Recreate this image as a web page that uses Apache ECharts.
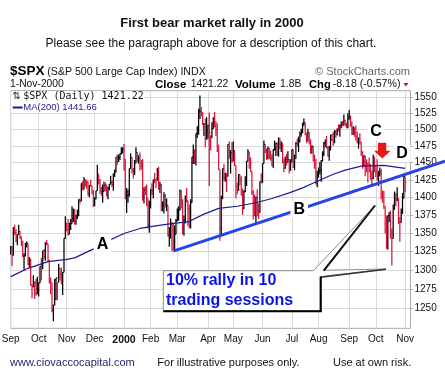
<!DOCTYPE html>
<html><head><meta charset="utf-8">
<script src="https://cdn.jsdelivr.net/npm/echarts@6.0.0/dist/echarts.min.js"></script>
<style>html,body{margin:0;padding:0;background:#fff}#c{width:445px;height:384px}</style>
</head><body><div id="c"></div>
<script>
// Trading days per month (last month has 4 blank slots after Nov 1)
const tradingMonths = [
"1999-09|1 2 3 7 8 9 10 13 14 15 16 17 20 21 22 23 24 27 28 29 30",
"1999-10|1 4 5 6 7 8 11 12 13 14 15 18 19 20 21 22 25 26 27 28 29",
"1999-11|1 2 3 4 5 8 9 10 11 12 15 16 17 18 19 22 23 24 26 29 30",
"1999-12|1 2 3 6 7 8 9 10 13 14 15 16 17 20 21 22 23 27 28 29 30 31",
"2000-01|3 4 5 6 7 10 11 12 13 14 18 19 20 21 24 25 26 27 28 31",
"2000-02|1 2 3 4 7 8 9 10 11 14 15 16 17 18 22 23 24 25 28 29",
"2000-03|1 2 3 6 7 8 9 10 13 14 15 16 17 20 21 22 23 24 27 28 29 30 31",
"2000-04|3 4 5 6 7 10 11 12 13 14 17 18 19 20 24 25 26 27 28",
"2000-05|1 2 3 4 5 8 9 10 11 12 15 16 17 18 19 22 23 24 25 26 30 31",
"2000-06|1 2 5 6 7 8 9 12 13 14 15 16 19 20 21 22 23 26 27 28 29 30",
"2000-07|3 5 6 7 10 11 12 13 14 17 18 19 20 21 24 25 26 27 28 31",
"2000-08|1 2 3 4 7 8 9 10 11 14 15 16 17 18 21 22 23 24 25 28 29 30 31",
"2000-09|1 5 6 7 8 11 12 13 14 15 18 19 20 21 22 25 26 27 28 29",
"2000-10|2 3 4 5 6 9 10 11 12 13 16 17 18 19 20 23 24 25 26 27 30 31",
"2000-11|1 2 3 6 7"
];

const closes = [
1331.1,1319.1,1357.2,1350.5,1344.2,1347.7,1351.7,1344.1,1336.3,1318.0,1318.5,1335.4,1335.5,1307.6,1310.5,1280.4,1277.4,1283.3,1282.2,1268.4,1282.7,
1282.8,1304.6,1301.4,1325.4,1317.6,1336.0,1335.2,1313.0,1285.6,1283.4,1247.4,1254.1,1261.3,1289.4,1283.6,1301.7,1293.6,1281.9,1296.7,1342.4,1362.9,
1354.1,1347.7,1354.9,1362.6,1370.2,1377.0,1365.3,1373.5,1381.5,1396.1,1394.4,1420.1,1410.7,1424.9,1422.0,1420.9,1404.6,1417.1,1416.6,1407.8,1388.9,
1397.7,1409.0,1433.3,1423.3,1409.2,1403.9,1408.1,1417.0,1415.2,1403.2,1413.3,1418.8,1421.0,1418.1,1433.4,1436.1,1458.3,1457.1,1457.7,1463.5,1464.5,1469.3,
1455.2,1399.4,1402.1,1403.5,1441.5,1457.6,1438.6,1432.3,1449.7,1465.2,1455.1,1455.9,1445.6,1441.4,1401.5,1410.0,1404.1,1398.6,1360.2,1394.5,
1409.3,1409.1,1425.0,1424.4,1424.2,1441.7,1411.7,1416.8,1387.1,1389.9,1402.1,1387.7,1388.3,1346.1,1352.2,1360.7,1353.4,1333.4,1348.1,1366.4,
1379.2,1381.8,1409.2,1391.3,1355.6,1366.7,1401.7,1395.1,1383.6,1359.2,1392.1,1458.5,1464.5,1456.6,1493.9,1500.6,1527.4,1527.5,1523.9,1507.7,1508.5,1487.9,1498.6,
1506.0,1494.7,1487.4,1501.3,1516.4,1504.5,1500.6,1467.2,1440.5,1356.6,1401.4,1441.6,1427.5,1434.5,1429.9,1477.4,1461.0,1464.9,1452.4,
1468.3,1446.3,1415.1,1409.6,1432.6,1424.2,1412.1,1383.1,1407.8,1421.0,1452.4,1466.0,1447.8,1437.2,1407.0,1400.7,1373.9,1399.1,1381.5,1378.0,1422.5,1420.6,
1448.8,1477.3,1467.6,1457.8,1471.4,1461.7,1457.0,1446.0,1469.4,1470.5,1478.7,1464.5,1486.0,1476.0,1479.1,1452.2,1441.5,1455.3,1450.6,1454.8,1442.4,1454.6,
1469.5,1446.2,1456.7,1478.9,1475.6,1480.9,1492.9,1495.8,1510.0,1510.5,1493.7,1482.0,1495.6,1480.2,1464.3,1474.5,1452.4,1449.6,1419.9,1430.8,
1438.1,1438.7,1452.6,1462.9,1479.3,1482.8,1472.9,1460.3,1471.8,1491.6,1484.4,1479.9,1496.1,1491.7,1499.5,1498.1,1506.0,1508.3,1506.5,1514.1,1509.8,1502.6,1517.7,
1520.8,1507.1,1492.3,1502.5,1494.5,1489.3,1482.0,1484.9,1480.9,1465.8,1444.5,1459.9,1451.3,1449.1,1448.7,1439.0,1427.2,1426.6,1458.3,1436.5,
1436.2,1426.5,1434.3,1436.3,1409.0,1402.0,1387.0,1364.6,1329.8,1374.2,1374.6,1350.0,1342.1,1388.8,1396.9,1395.8,1398.1,1364.9,1364.4,1379.6,1398.7,1429.4,
1421.2
];

const highs = [
1331.6,1331.0,1357.7,1361.0,1355.0,1347.8,1361.0,1352.0,1345.0,1339.0,1322.0,1336.0,1338.0,1335.0,1317.0,1315.0,1281.0,1293.0,1285.0,1288.0,1291.0,
1283.0,1304.6,1316.0,1325.5,1328.0,1337.0,1340.0,1335.0,1313.0,1290.0,1283.0,1254.5,1288.0,1289.5,1283.6,1308.0,1301.7,1303.0,1297.0,1342.5,1373.0,
1363.0,1369.0,1364.0,1369.0,1387.0,1384.0,1383.0,1375.0,1382.0,1397.0,1398.0,1420.1,1423.0,1429.0,1425.0,1425.0,1423.0,1417.1,1425.0,1416.0,1410.0,
1400.0,1409.0,1447.0,1433.0,1426.0,1415.0,1418.0,1422.0,1421.0,1418.0,1415.0,1419.0,1431.0,1424.0,1434.0,1440.0,1458.3,1462.0,1462.0,1464.0,1473.0,1473.0,
1478.0,1455.0,1413.0,1411.0,1441.5,1464.0,1458.0,1442.0,1454.0,1473.0,1465.0,1461.0,1465.0,1454.0,1455.0,1414.0,1416.0,1418.0,1398.0,1394.5,
1412.0,1420.0,1425.0,1435.0,1427.0,1441.8,1444.0,1422.0,1419.0,1394.0,1407.0,1404.0,1398.0,1388.0,1358.0,1370.0,1365.0,1362.0,1360.0,1369.0,
1384.0,1387.0,1410.9,1409.0,1397.0,1374.0,1401.8,1413.0,1395.0,1390.0,1397.0,1458.5,1477.0,1470.0,1493.9,1505.0,1532.0,1552.9,1534.6,1527.0,1510.0,1517.0,1519.0,
1507.0,1526.0,1491.0,1511.0,1518.7,1527.0,1513.0,1509.0,1477.0,1440.0,1401.5,1441.6,1448.0,1435.0,1434.0,1477.7,1482.0,1469.0,1481.0,
1481.5,1468.0,1446.0,1421.0,1433.0,1432.6,1430.0,1412.0,1410.0,1430.0,1452.4,1470.0,1466.0,1458.0,1437.0,1410.0,1403.8,1401.0,1411.0,1391.0,1422.5,1434.0,
1448.8,1483.0,1477.0,1471.0,1474.0,1472.0,1468.0,1462.0,1470.0,1483.0,1480.0,1480.0,1488.0,1487.0,1482.0,1479.0,1456.0,1459.0,1463.0,1467.0,1455.0,1454.7,
1469.6,1469.0,1462.0,1481.0,1486.0,1489.0,1497.0,1501.0,1510.0,1517.0,1510.0,1495.0,1501.0,1495.6,1485.0,1476.0,1474.5,1462.0,1456.0,1438.0,
1443.0,1451.0,1454.0,1467.0,1480.8,1484.5,1490.0,1475.0,1475.0,1491.6,1493.0,1496.0,1499.0,1499.0,1502.0,1508.0,1507.0,1512.0,1513.0,1523.0,1514.0,1510.0,1525.0,
1530.0,1520.8,1512.0,1505.0,1502.5,1506.0,1497.0,1488.0,1494.0,1481.0,1467.0,1461.0,1460.0,1455.0,1449.0,1457.7,1448.0,1438.0,1461.7,1458.0,
1445.0,1455.0,1438.0,1443.0,1441.0,1409.0,1409.0,1387.0,1374.0,1374.2,1379.0,1381.0,1356.0,1389.0,1408.0,1406.0,1414.0,1398.0,1372.0,1384.0,1406.0,1432.0,
1429.0
];

const lows = [
1320.4,1304.9,1319.0,1347.0,1337.0,1333.0,1347.0,1341.0,1332.0,1317.0,1299.0,1318.0,1330.0,1306.0,1303.0,1279.0,1263.0,1277.0,1262.0,1266.0,1268.0,
1265.0,1282.8,1286.0,1301.0,1314.0,1312.0,1333.0,1311.0,1282.0,1268.0,1245.0,1233.7,1254.0,1261.0,1260.0,1283.6,1286.0,1281.0,1267.0,1296.7,1342.0,
1352.0,1346.0,1348.0,1354.0,1363.0,1365.0,1361.0,1361.0,1369.0,1373.0,1391.0,1394.0,1410.0,1411.0,1415.0,1412.0,1402.0,1400.0,1415.0,1404.0,1386.0,
1387.0,1397.0,1409.0,1418.0,1405.0,1402.0,1392.0,1408.0,1408.0,1401.0,1397.0,1410.0,1418.0,1414.0,1409.0,1429.0,1436.0,1447.0,1451.0,1454.0,1462.0,1464.0,
1438.0,1397.0,1377.7,1392.0,1400.7,1441.0,1434.0,1427.0,1432.0,1449.0,1451.0,1448.0,1438.0,1440.0,1395.0,1391.0,1403.0,1387.0,1356.0,1350.0,
1384.0,1403.0,1398.0,1420.0,1413.0,1424.0,1411.0,1406.0,1380.0,1380.0,1377.0,1385.0,1380.0,1345.0,1331.0,1342.0,1325.0,1326.0,1325.0,1348.0,
1366.0,1367.0,1381.0,1384.0,1348.0,1346.0,1363.0,1392.0,1359.0,1356.0,1356.0,1392.0,1448.0,1448.0,1446.0,1487.0,1492.0,1516.0,1520.0,1507.0,1490.0,1473.0,1484.0,
1486.0,1416.0,1468.0,1487.0,1501.0,1503.0,1490.0,1466.0,1439.0,1339.0,1346.0,1397.0,1424.0,1422.0,1407.0,1429.9,1456.0,1434.0,1450.0,
1452.0,1445.0,1398.0,1404.0,1409.0,1417.0,1402.0,1375.0,1383.0,1407.0,1416.0,1452.0,1441.0,1436.0,1403.0,1368.0,1373.0,1361.0,1373.0,1369.0,1378.0,1420.0,
1420.6,1448.8,1464.0,1454.0,1455.0,1455.0,1453.0,1445.0,1442.0,1468.0,1460.0,1460.0,1459.0,1470.0,1466.0,1449.0,1436.0,1441.0,1446.0,1450.0,1434.0,1438.0,
1450.0,1442.0,1439.0,1456.0,1474.0,1466.0,1481.0,1489.0,1494.0,1505.0,1491.0,1479.0,1482.0,1477.0,1463.0,1464.0,1452.0,1441.0,1418.0,1414.0,
1428.0,1433.0,1422.0,1452.0,1460.0,1473.0,1471.0,1459.0,1453.0,1468.0,1482.0,1475.0,1479.0,1487.0,1491.0,1497.0,1489.0,1502.0,1505.0,1506.0,1505.0,1502.0,1502.0,
1515.0,1504.0,1492.0,1492.0,1489.0,1483.0,1479.0,1471.0,1477.0,1460.0,1441.0,1444.0,1430.0,1436.0,1421.0,1436.0,1425.0,1419.0,1425.8,1436.0,
1429.0,1424.0,1416.0,1430.0,1397.0,1392.0,1383.0,1349.0,1328.0,1327.0,1365.0,1342.0,1305.8,1342.0,1382.0,1387.0,1394.0,1362.0,1337.8,1364.0,1376.0,1398.0,
1407.0
];

const maDates = ["1999-09-01","1999-09-21","1999-10-12","1999-11-01","1999-11-09","1999-11-29","1999-12-15","2000-01-03","2000-01-20","2000-02-08","2000-02-25","2000-03-13","2000-03-29","2000-04-13","2000-05-04","2000-05-24","2000-06-12","2000-06-29","2000-07-17","2000-07-27","2000-08-16","2000-08-29","2000-09-15","2000-10-10","2000-11-01"];
const maValues = [1291,1302,1311,1314,1316,1327,1339,1349,1356,1360,1363,1365,1376,1384,1387,1392,1398,1406,1414,1421,1433,1439,1445,1446,1441.66];

const yTicks = [1250,1275,1300,1325,1350,1375,1400,1425,1450,1475,1500,1525,1550];
const monthNames = ["Jan","Feb","Mar","Apr","May","Jun","Jul","Aug","Sep","Oct","Nov","Dec"];
// Trendline anchor points (date, price)
const trendFrom = ["2000-02-25", 1325];
const trendTo = ["2000-11-01", 1433];

// ---- build categories
const dates = [];
tradingMonths.forEach(s => {
  const parts = s.split('|');
  parts[1].trim().split(/\s+/).forEach(d => dates.push(parts[0] + '-' + (d.length < 2 ? '0' + d : d)));
});
if (closes.length !== 297 || highs.length !== 297 || lows.length !== 297) {
  throw new Error('length mismatch ' + closes.length + ' ' + highs.length + ' ' + lows.length);
}
const monthStart = new Set();
dates.forEach((d, i) => { if (i === 0 || d.slice(0, 7) !== dates[i - 1].slice(0, 7)) monthStart.add(i); });
const isStart = (idx) => monthStart.has(idx);

const RED = '#dc143c', BLACK = '#000000';
const barData = closes.map((c, i) => [i, Math.log(highs[i]), Math.log(lows[i]), Math.log(c), (i > 0 && c < closes[i - 1]) ? 1 : 0]);
const maData = maDates.map((d, k) => [dates.indexOf(d), Math.log(maValues[k])]);
const yLn = yTicks.map(v => Math.log(v));

const FONT = 'Liberation Sans, Arial, sans-serif';
const chart = echarts.init(document.getElementById('c'), null, {renderer: 'canvas'});
chart.setOption({
  animation: false,
  backgroundColor: '#ffffff',
  grid: {left: 10.7, right: 34.5, top: 90.7, bottom: 55.7, show: true, borderColor: '#a8a8a8', borderWidth: 1, containLabel: false, outerBoundsMode: 'none'},
  xAxis: {
    type: 'category', data: dates, boundaryGap: false,
    axisLine: {show: false},
    axisTick: {show: false, interval: isStart},
    axisLabel: {
      interval: isStart, margin: 6, color: '#111', fontFamily: FONT, fontSize: 10,
      formatter: (v) => { const m = +v.slice(5, 7); return m === 1 ? '{b|' + v.slice(0, 4) + '}' : monthNames[m - 1]; },
      rich: {b: {fontWeight: 'bold', fontSize: 10.5, fontFamily: FONT, color: '#111'}}
    },
    splitLine: {show: true, interval: isStart, lineStyle: {color: '#d9d9d9', width: 1}}
  },
  yAxis: {
    type: 'value', position: 'right', min: Math.log(1224.8), max: Math.log(1560.4),
    axisLine: {show: false},
    axisTick: {show: true, length: 2, lineStyle: {color: '#999'}, customValues: yLn},
    axisLabel: {customValues: yLn, margin: 4, color: '#111', fontFamily: FONT, fontSize: 10,
      formatter: (v) => String(Math.round(Math.exp(v)))},
    splitLine: {show: true, lineStyle: {color: '#d9d9d9', width: 1}}
  },
  series: [
    {
      type: 'custom', data: barData, encode: {x: 0, y: [1, 2]}, z: 2,
      renderItem: (params, api) => {
        const i = api.value(0);
        const hi = api.coord([i, api.value(1)]);
        const lo = api.coord([i, api.value(2)]);
        const cl = api.coord([i, api.value(3)]);
        const col = api.value(4) ? RED : BLACK;
        return {type: 'group', children: [
          {type: 'line', shape: {x1: hi[0], y1: hi[1], x2: lo[0], y2: lo[1]}, style: {stroke: col, lineWidth: 1.25}},
          {type: 'line', shape: {x1: cl[0], y1: cl[1], x2: cl[0] + 1.4, y2: cl[1]}, style: {stroke: col, lineWidth: 1}}
        ]};
      }
    },
    {
      type: 'line', data: maData, symbol: 'none', z: 3, silent: true,
      lineStyle: {color: '#1c1c90', width: 1.2}
    }
  ]
});

// ---- annotations
const p1 = chart.convertToPixel({gridIndex: 0}, [dates.indexOf(trendFrom[0]), Math.log(trendFrom[1])]);
const p2 = chart.convertToPixel({gridIndex: 0}, [dates.indexOf(trendTo[0]), Math.log(trendTo[1])]);
const slope = (p2[1] - p1[1]) / (p2[0] - p1[0]);
const xEnd = 445;
const yEnd = p1[1] + slope * (xEnd - p1[0]);

function txt(text, x, y, opt) {
  return {type: 'text', z: 120, style: Object.assign({text: text, x: x, y: y, fill: '#111', font: '11px ' + FONT, align: 'left', verticalAlign: 'middle'}, opt || {})};
}
function letter(t, x, y) {
  return {type: 'text', z: 130, style: {text: t, x: x, y: y, fill: '#000', font: 'bold 16px ' + FONT, align: 'center', verticalAlign: 'middle', backgroundColor: '#fff', padding: [1, 3, 0, 3]}};
}

const graphics = [
  txt('First bear market rally in 2000', 212, 23.5, {font: 'bold 13px ' + FONT, align: 'center'}),
  txt('Please see the paragraph above for a description of this chart.', 211, 44, {font: '12px ' + FONT, align: 'center'}),
  txt('$SPX', 10, 71.5, {font: 'bold 13.5px ' + FONT, fill: '#000'}),
  txt('(S&P 500 Large Cap Index) INDX', 47.3, 72, {font: '10.6px ' + FONT}),
  txt('\u00A9 StockCharts.com', 410, 72, {font: '11px ' + FONT, fill: '#666', align: 'right'}),
  txt('1-Nov-2000', 10, 84.5, {font: '10.3px ' + FONT}),
  txt('Close', 155, 84.5, {font: 'bold 11.5px ' + FONT, fill: '#000'}),
  txt('1421.22', 190.7, 84.5, {font: '10.4px ' + FONT}),
  txt('Volume', 235, 84.5, {font: 'bold 11.5px ' + FONT, fill: '#000'}),
  txt('1.8B', 280, 84.5, {font: '10.4px ' + FONT}),
  txt('Chg', 309, 84.5, {font: 'bold 11.2px ' + FONT, fill: '#000'}),
  txt('-8.18 (-0.57%)', 332.7, 84.5, {font: '10.6px ' + FONT}),
  {type: 'polygon', z: 120, shape: {points: [[403.3, 83], [408.5, 83], [405.9, 86.6]]}, style: {fill: '#c8143c'}},
  // legend inside plot
  {type: 'rect', z: 110, shape: {x: 11.3, y: 91.3, width: 133, height: 10}, style: {fill: '#fff'}},
  {type: 'rect', z: 110, shape: {x: 11.3, y: 101.3, width: 87, height: 11}, style: {fill: '#fff'}},
  txt('\u21C5', 12.5, 96.3, {font: '10px DejaVu Sans', fill: '#222'}),
  txt('$SPX (Daily) 1421.22', 23.3, 96.3, {font: '10px DejaVu Sans Mono', fill: '#111'}),
  {type: 'line', z: 120, shape: {x1: 12.7, y1: 107.5, x2: 22.7, y2: 107.5}, style: {stroke: '#1c1c90', lineWidth: 2}},
  txt('MA(200) 1441.66', 23.3, 107.8, {font: '9.5px ' + FONT, fill: '#1c1c90'}),
  // trend line
  {type: 'line', z: 115, shape: {x1: p1[0], y1: p1[1], x2: xEnd, y2: yEnd}, style: {stroke: '#2244e8', lineWidth: 3}},
  // letters
  letter('A', 102.5, 244.5),
  letter('B', 299.2, 209.3),
  letter('C', 376, 132),
  letter('D', 402, 153.5),
  // red arrow
  {type: 'polygon', z: 130, shape: {points: [[378, 142.7], [386.3, 142.7], [386.3, 150.7], [390.7, 150.7], [382.2, 158.5], [374, 150.7], [378, 150.7]]}, style: {fill: '#e81818'}},
  // callout
  {type: 'polygon', z: 140, shape: {points: [[163.3, 270.7], [313.3, 270.7], [375, 205.5], [323.3, 270.3], [386, 269], [320, 276.7], [320, 310.7], [163.3, 310.7]]}, style: {fill: '#fff', stroke: '#8a8a8a', lineWidth: 1}},
  {type: 'line', z: 141, shape: {x1: 323.8, y1: 270.6, x2: 375, y2: 205.5}, style: {stroke: '#111', lineWidth: 2}},
  {type: 'line', z: 141, shape: {x1: 320.5, y1: 277.2, x2: 386, y2: 269.3}, style: {stroke: '#333', lineWidth: 1.6}},
  {type: 'line', z: 141, shape: {x1: 320.8, y1: 276.7, x2: 320.8, y2: 311.8}, style: {stroke: '#000', lineWidth: 2}},
  {type: 'line', z: 141, shape: {x1: 163.3, y1: 311.2, x2: 321.8, y2: 311.2}, style: {stroke: '#000', lineWidth: 2}},
  Object.assign(txt('10% rally in 10', 166, 280.5, {font: 'bold 16px ' + FONT, fill: '#0a14e8'}), {z: 150}),
  Object.assign(txt('trading sessions', 166, 300.5, {font: 'bold 16px ' + FONT, fill: '#0a14e8'}), {z: 150}),
  // footer
  txt('www.ciovaccocapital.com', 10, 363, {font: '11px ' + FONT, fill: '#1f2a6b'}),
  txt('For illustrative purposes only.', 157.3, 363, {font: '11px ' + FONT, fill: '#111'}),
  txt('Use at own risk.', 333, 363, {font: '11px ' + FONT, fill: '#111'})
];
chart.setOption({graphic: {elements: graphics}});
</script>
</body></html>
